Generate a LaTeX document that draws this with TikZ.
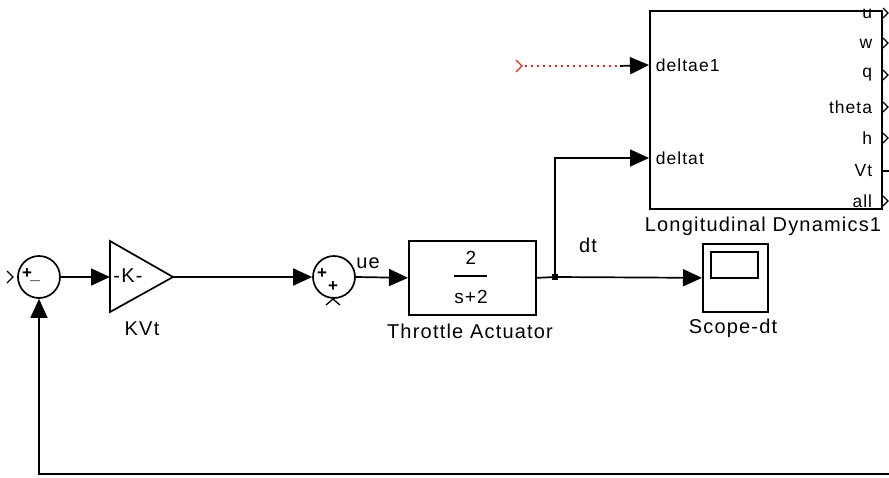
\documentclass[tikz,border=0pt]{standalone}
\usepackage{fontspec}
\setmainfont{Liberation Sans}[LetterSpace=6]
\usetikzlibrary{arrows.meta}
\definecolor{sigred}{RGB}{225,40,40}
\begin{document}
\begin{tikzpicture}[x=1pt,y=-1pt, line width=1.7pt,
  blk/.style={draw, line width=1.7pt, inner sep=0pt},
  arr/.style={-{Triangle[length=19pt,width=17pt]}},
  lbl/.style={font=\fontsize{20}{24}\selectfont, inner sep=0pt},
  port/.style={font=\fontsize{17.5}{20}\selectfont, inner sep=0pt},
  sgn/.style={font=\fontsize{17}{18}\selectfont\bfseries, inner sep=0pt},
  chev/.style={line width=1.3pt}
]
\useasboundingbox (0,0) rectangle (889,477);

% sum 1
\node[blk, circle, minimum size=42pt] (s1) at (39,277) {};
\node[sgn] (s1p) at (27,274) {+};
\node[sgn] (s1m) at (35,281) {\_};
\coordinate (in1) at (8,277);
\draw[chev] (7,271) -- (13,277) -- (7,283);

% gain
\coordinate (gin) at (110,277);
\coordinate (gout) at (173,277);
\draw[line width=1.7pt, line join=miter] (110,241) -- (173,277) -- (110,312) -- cycle;
\node[lbl] (gk) at (128,276) {-K-};
\node[lbl] (kvt) at (142,329) {KVt};

% sum 2
\node[blk, circle, minimum size=42pt] (s2) at (334,277) {};
\node[sgn] (s2p1) at (322,274) {+};
\node[sgn] (s2p2) at (333,287) {+};
\draw[chev] (326,305) -- (333,299) -- (340,305);
\node[lbl] (ue) at (368,263) {ue};

% throttle actuator
\node[blk, minimum width=127pt, minimum height=74pt, anchor=north west] (thr) at (408,240) {};
\node[font=\fontsize{19}{22}\selectfont, inner sep=0pt] (num) at (471,258) {2};
\draw[line width=1.4pt] (454,276) -- (487,276);
\node[font=\fontsize{19}{22}\selectfont, inner sep=0pt] (den) at (471,297) {s+2};
\node[lbl] (thrl) at (470,331) {Throttle Actuator};

% branch point
\coordinate (bp) at (555,277);
\fill (552,274) rectangle (558,280);
\node[lbl] (dt) at (588,245) {dt};

% scope
\node[blk, minimum width=65pt, minimum height=68pt, anchor=north west] (scope) at (702,243) {};
\draw[line width=1.7pt] (711,252) rectangle (758,278);
\node[lbl] (scl) at (733,328) {Scope-dt};

% longitudinal dynamics
\node[blk, minimum width=232pt, minimum height=198pt, anchor=north west] (ld) at (649,10) {};
\node[lbl] (ldl) at (763,226) {Longitudinal Dynamics1};
\coordinate (dein) at (649,65);
\coordinate (dtin) at (649,158);
\node[port, anchor=west] (pde) at (655,65) {deltae1};
\node[port, anchor=west] (pdt) at (655,158) {deltat};
\foreach \n/\yy in {u/14, w/44, q/75, theta/107, h/138, Vt/171, all/201}{
  \node[port, anchor=east] (p\n) at (873,\yy) {\n};
}
\foreach \yy in {13, 43, 75, 107, 138, 201}{
  \draw[chev] (883,\yy-5) -- (888,\yy) -- (883,\yy+5);
}
\coordinate (vtout) at (881,171);
\coordinate (vtR) at (889,171);
\draw (vtout) -- (vtR);

% red unconnected input
\coordinate (red0) at (518,66);
\coordinate (redE) at (620,66);
\draw[sigred, chev] (516,60) -- (522,66) -- (516,72);
\draw[sigred, line width=1.6pt, dash pattern=on 2pt off 4pt] (525,66) -- (redE);
\draw[arr] (redE) -- (dein);

% connectors
\draw[arr] (s1.east) -- (gin);
\draw[arr] (gout) -- (s2.west);
\draw[arr] (s2.east) -- (thr.west);
\draw (thr.east) -- (bp);
\draw[arr] (bp) -- (scope.west);
\draw[arr] (bp) |- (dtin);
\coordinate (fbR) at (889,474);
\draw[arr] (fbR) -| (s1.south);
\end{tikzpicture}
\end{document}
